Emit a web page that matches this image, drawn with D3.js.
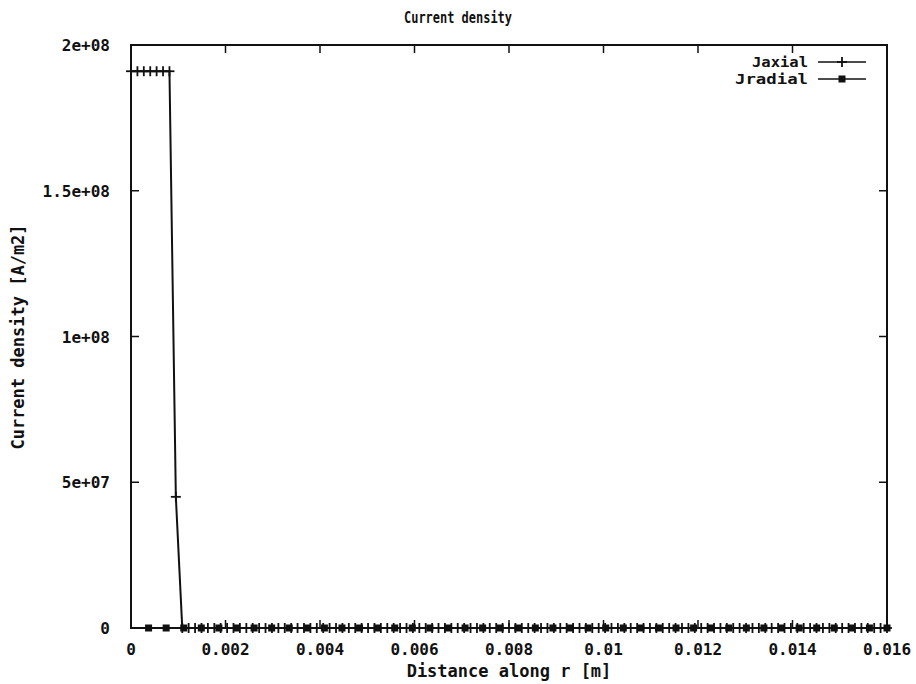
<!DOCTYPE html>
<html>
<head>
<meta charset="utf-8">
<script src="https://cdn.jsdelivr.net/npm/d3@7"></script>
<style>
  body { margin: 0; background: #fff; }
  svg text { font-family: "DejaVu Sans Mono", "Liberation Mono", monospace; font-weight: bold; font-size: 16px; fill: #111; }
  svg text.title { font-size: 15px; }
  svg text.legend { font-size: 14px; }
  svg text.axis-label { font-size: 17px; }
</style>
</head>
<body>
<svg id="chart" width="916" height="684"></svg>
<script>
// Data
const titleText = 'Current density';
const xLabel = 'Distance along r [m]';
const yLabel = 'Current density [A/m2]';

const xTicks = [0, 0.002, 0.004, 0.006, 0.008, 0.01, 0.012, 0.014, 0.016];
const xTickLabels = ['0', '0.002', '0.004', '0.006', '0.008', '0.01', '0.012', '0.014', '0.016'];
const yTicks = [0, 5e7, 1e8, 1.5e8, 2e8];
const yTickLabels = ['0', '5e+07', '1e+08', '1.5e+08', '2e+08'];

// Jaxial mesh (r in m)
const rAxial = [
    0, 0.000136, 0.000271, 0.000407, 0.000542, 0.000678, 0.000814, 0.000949,
    0.001085, 0.001220, 0.001356, 0.001492, 0.001627, 0.001763, 0.001898, 0.002034,
    0.002169, 0.002305, 0.002441, 0.002576, 0.002712, 0.002847, 0.002983, 0.003119,
    0.003254, 0.003390, 0.003525, 0.003661, 0.003797, 0.003932, 0.004068, 0.004203,
    0.004339, 0.004475, 0.004610, 0.004746, 0.004881, 0.005017, 0.005153, 0.005288,
    0.005424, 0.005559, 0.005695, 0.005831, 0.005966, 0.006102, 0.006237, 0.006373,
    0.006508, 0.006644, 0.006780, 0.006915, 0.007051, 0.007186, 0.007322, 0.007458,
    0.007593, 0.007729, 0.007864, 0.008000, 0.008136, 0.008271, 0.008407, 0.008542,
    0.008678, 0.008814, 0.008949, 0.009085, 0.009220, 0.009356, 0.009492, 0.009627,
    0.009763, 0.009898, 0.010034, 0.010169, 0.010305, 0.010441, 0.010576, 0.010712,
    0.010847, 0.010983, 0.011119, 0.011254, 0.011390, 0.011525, 0.011661, 0.011797,
    0.011932, 0.012068, 0.012203, 0.012339, 0.012475, 0.012610, 0.012746, 0.012881,
    0.013017, 0.013153, 0.013288, 0.013424, 0.013559, 0.013695, 0.013831, 0.013966,
    0.014102, 0.014237, 0.014373, 0.014508, 0.014644, 0.014780, 0.014915, 0.015051,
    0.015186, 0.015322, 0.015458, 0.015593, 0.015729, 0.015864, 0.016000
];
// Jaxial values (A/m2): flat top, steep drop, then zero
const jAxialTop = [1.91e8, 1.91e8, 1.91e8, 1.91e8, 1.91e8, 1.91e8, 1.91e8, 4.5e7];
const jAxial = rAxial.map((r, i) => i < jAxialTop.length ? jAxialTop[i] : 0);

// Jradial mesh (r in m), all values zero
const rRadial = [
    0.000372, 0.000744, 0.001116, 0.001488, 0.001860, 0.002233, 0.002605, 0.002977,
    0.003349, 0.003721, 0.004093, 0.004465, 0.004837, 0.005209, 0.005581, 0.005953,
    0.006326, 0.006698, 0.007070, 0.007442, 0.007814, 0.008186, 0.008558, 0.008930,
    0.009302, 0.009674, 0.010047, 0.010419, 0.010791, 0.011163, 0.011535, 0.011907,
    0.012279, 0.012651, 0.013023, 0.013395, 0.013767, 0.014140, 0.014512, 0.014884,
    0.015256, 0.015628, 0.016000
];
const jRadial = rRadial.map(() => 0);

const margin = {top: 45, right: 29, bottom: 56, left: 131};
const width = 916 - margin.left - margin.right;
const height = 684 - margin.top - margin.bottom;

const svg = d3.select('#chart');
const g = svg.append('g').attr('transform', `translate(${margin.left},${margin.top})`);

const x = d3.scaleLinear().domain([0, 0.016]).range([0, width]);
const y = d3.scaleLinear().domain([0, 2e8]).range([height, 0]);

// Ticks (inside, mirrored)
const tickLen = 8;
const ink = '#111';
xTicks.forEach((t, i) => {
    g.append('line').attr('x1', x(t)).attr('x2', x(t)).attr('y1', height).attr('y2', height - tickLen)
        .attr('stroke', ink).attr('stroke-width', 1.5);
    g.append('line').attr('x1', x(t)).attr('x2', x(t)).attr('y1', 0).attr('y2', tickLen)
        .attr('stroke', ink).attr('stroke-width', 1.5);
    g.append('text').attr('x', x(t)).attr('y', height + 27).attr('text-anchor', 'middle')
        .text(xTickLabels[i]);
});
yTicks.forEach((t, i) => {
    g.append('line').attr('x1', 0).attr('x2', tickLen).attr('y1', y(t)).attr('y2', y(t))
        .attr('stroke', ink).attr('stroke-width', 1.5);
    g.append('line').attr('x1', width).attr('x2', width - tickLen).attr('y1', y(t)).attr('y2', y(t))
        .attr('stroke', ink).attr('stroke-width', 1.5);
    g.append('text').attr('x', -21).attr('y', y(t) + 6).attr('text-anchor', 'end')
        .text(yTickLabels[i]);
});

// Border
g.append('rect').attr('x', 0).attr('y', 0).attr('width', width).attr('height', height)
    .attr('fill', 'none').attr('stroke', ink).attr('stroke-width', 2);

// Series
const axialData = rAxial.map((r, i) => ({r, v: jAxial[i]}));
const radialData = rRadial.map((r, i) => ({r, v: jRadial[i]}));
const line = d3.line().x(d => x(d.r)).y(d => y(d.v));

g.append('path').datum(radialData).attr('d', line)
    .attr('fill', 'none').attr('stroke', ink).attr('stroke-width', 2);
g.append('path').datum(axialData).attr('d', line)
    .attr('fill', 'none').attr('stroke', ink).attr('stroke-width', 2);

function plus(sel, cx, cy) {
    sel.append('line').attr('x1', cx - 5).attr('x2', cx + 5).attr('y1', cy).attr('y2', cy)
        .attr('stroke', ink).attr('stroke-width', 1.8);
    sel.append('line').attr('x1', cx).attr('x2', cx).attr('y1', cy - 5).attr('y2', cy + 5)
        .attr('stroke', ink).attr('stroke-width', 1.8);
}
function square(sel, cx, cy) {
    sel.append('rect').attr('x', cx - 3.5).attr('y', cy - 3.5).attr('width', 7).attr('height', 7)
        .attr('fill', ink);
}

radialData.forEach(d => square(g, x(d.r), y(d.v)));
axialData.forEach(d => plus(g, x(d.r), y(d.v)));

// Legend
const legend = [
    {name: 'Jaxial', marker: plus, len: 56},
    {name: 'Jradial', marker: square, len: 73}
];
legend.forEach((l, i) => {
    const ly = 62 + i * 17;
    svg.append('text').attr('class', 'legend').attr('x', 808).attr('y', ly + 5).attr('text-anchor', 'end')
        .attr('textLength', l.len).attr('lengthAdjust', 'spacingAndGlyphs').text(l.name);
    svg.append('line').attr('x1', 818).attr('x2', 866).attr('y1', ly).attr('y2', ly)
        .attr('stroke', ink).attr('stroke-width', 1.6);
    l.marker(svg, 842, ly);
});

// Titles
svg.append('text').attr('class', 'title').attr('x', 458).attr('y', 23).attr('text-anchor', 'middle')
    .attr('textLength', 108).attr('lengthAdjust', 'spacingAndGlyphs').text(titleText);
svg.append('text').attr('class', 'axis-label').attr('x', 509).attr('y', 677).attr('text-anchor', 'middle').text(xLabel);
svg.append('text').attr('class', 'axis-label').attr('transform', 'translate(24,337) rotate(-90)').attr('text-anchor', 'middle').text(yLabel);
</script>
</body>
</html>
